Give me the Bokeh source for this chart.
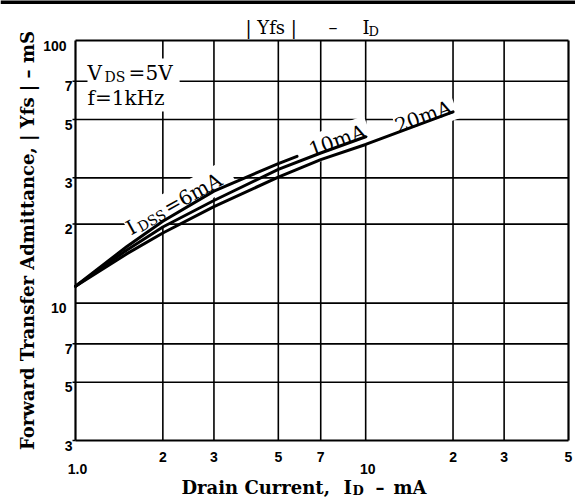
import math
from bokeh.plotting import figure
from bokeh.models import Label, Range1d, Span
from bokeh.embed import file_html
from bokeh.resources import INLINE

# ---------------- data ----------------
id_6mA = [1.0, 1.5, 2.0, 3.0, 5.0, 5.8]
yfs_6mA = [11.6, 16.4, 20.5, 26.7, 34.0, 36.2]

id_10mA = [1.0, 1.5, 2.0, 3.0, 5.0, 7.0, 10.0]
yfs_10mA = [11.6, 15.9, 19.5, 24.6, 32.3, 37.3, 43.0]

id_20mA = [1.0, 1.5, 2.0, 3.0, 5.0, 7.0, 10.0, 20.0]
yfs_20mA = [11.6, 15.4, 18.5, 23.3, 30.2, 35.2, 40.2, 53.5]

x_lo, x_hi = 1.0, 50.0      # axis limits (mA)
y_lo, y_hi = 3.0, 100.0     # axis limits (mS)

x_ticks = [2, 3, 5, 7, 20, 30, 50]
x_tick_labels = ["2", "3", "5", "7", "2", "3", "5"]
x_decades = [1, 10]
x_decade_labels = ["1.0", "10"]

y_ticks = [3, 5, 7, 20, 30, 50, 70]
y_tick_labels = ["3", "5", "7", "2", "3", "5", "7"]
y_decades = [10, 100]
y_decade_labels = ["10", "100"]

x_grid = [2, 3, 5, 7, 10, 20, 30]
y_grid = [5, 7, 10, 20, 30, 50, 70]

# ---------------- layout: the frame fills the canvas ----------------
W, H = 575, 499
L, R, T, B = 75, 568, 40, 440          # where the chart box sits (px)
xpd = (R - L) / math.log10(x_hi / x_lo)  # px per decade
ypd = (B - T) / math.log10(y_hi / y_lo)
x_range = Range1d(x_lo / 10 ** (L / xpd), x_hi * 10 ** ((W - R) / xpd))
y_range = Range1d(y_lo / 10 ** ((H - B) / ypd), y_hi * 10 ** (T / ypd))

p = figure(width=W, height=H, x_axis_type="log", y_axis_type="log",
           x_range=x_range, y_range=y_range,
           x_axis_location=None, y_axis_location=None,
           output_backend="svg", toolbar_location=None, min_border=0)
p.title.visible = False
p.grid.visible = False
p.outline_line_color = None
p.background_fill_color = "white"
p.border_fill_color = "white"

TICK_FONT = "Liberation Sans"
SERIF = "DejaVu Serif"

# thick rule at the very top of the page
p.add_layout(Span(location=y_range.end, dimension="width",
                  line_color="black", line_width=7))

# grid lines and chart box
n = len(x_grid)
p.segment(x0=x_grid, y0=[y_lo] * n, x1=x_grid, y1=[y_hi] * n,
          line_color="black", line_width=1.6, level="image")
n = len(y_grid)
p.segment(x0=[x_lo] * n, y0=y_grid, x1=[x_hi] * n, y1=y_grid,
          line_color="black", line_width=1.6, level="image")
p.segment(x0=[x_lo, x_hi, x_lo, x_lo], y0=[y_lo, y_lo, y_lo, y_hi],
          x1=[x_lo, x_hi, x_hi, x_hi], y1=[y_hi, y_hi, y_lo, y_hi],
          line_color="black", line_width=2.2, level="image")
# small outside ticks on the y side
p.ray(x=[x_lo] * len(y_ticks), y=y_ticks, length=3, length_units="screen",
      angle=math.pi, line_color="black", line_width=1.5, level="image")

# ---------------- tick labels ----------------
def tick_label(text, xv, yv, dx, dy, align):
    p.add_layout(Label(x=xv, y=yv, x_offset=dx, y_offset=dy, text=text,
                       text_font=TICK_FONT, text_font_style="bold",
                       text_font_size="14px", text_color="black",
                       text_align=align, text_baseline="alphabetic"))

for xv, t in zip(x_ticks, x_tick_labels):
    tick_label(t, xv, y_lo, 0, -16, "center")
for xv, t in zip(x_decades, x_decade_labels):
    tick_label(t, xv, y_lo, 2, -28, "center")
for yv, t in zip(y_ticks, y_tick_labels):
    tick_label(t, x_lo, yv, -3, -5, "right")
for yv, t in zip(y_decades, y_decade_labels):
    tick_label(t, x_lo, yv, -9, -5, "right")

# ---------------- text helpers (anchored at the box's top-left corner) ----
def put(text, px, py, size, bold=False, angle=0.0, color="black", bg=None,
        level="annotation", font=SERIF, align="left"):
    kw = dict(x=x_lo, y=y_hi, x_offset=px - L, y_offset=-(py - T), text=text,
              angle=angle, text_font=font, text_font_size=f"{size}px",
              text_font_style="bold" if bold else "normal", text_color=color,
              text_align=align, text_baseline="alphabetic", level=level)
    if bg is not None:
        kw.update(background_fill_color=bg, padding=2)
    p.add_layout(Label(**kw))

def put_rot(text, x0, y0, d, s, deg, size, **kw):
    a = math.radians(deg)
    px = x0 + d * math.cos(a) + s * math.sin(a)
    py = y0 - d * math.sin(a) + s * math.cos(a)
    put(text, px, py, size, angle=a, **kw)

# white boxes behind in-chart texts (above grid, below curves)
put("VDS=5V", 87, 72, 20, color="white", bg="white", level="underlay")
put("f=1kHz", 87, 97, 20, color="white", bg="white", level="underlay")
put_rot("IDSS=6mA", 127, 229, 0, 0, 29, 20, color="white", bg="white", level="underlay")
put_rot("10mA", 309, 150, 0, 0, 20, 20, color="white", bg="white", level="underlay")
put_rot("20mA", 395, 126, 0, 0, 20, 20, color="white", bg="white", level="underlay")

# ---------------- curves ----------------
for xs, ys in ((id_6mA, yfs_6mA), (id_10mA, yfs_10mA), (id_20mA, yfs_20mA)):
    p.line(xs, ys, line_color="black", line_width=3, line_cap="round")

# ---------------- texts ----------------
# title  | Yfs |  -  I_D
put("| Yfs |", 245, 27, 18)
put("\u2013", 328, 27, 18)
put("I", 362, 27, 18)
put("D", 368, 31, 13)

# conditions
put("V", 87, 72, 20)
put("DS", 104, 76, 14)
put("=", 128, 72, 20)
put("5V", 145, 72, 20)
put("f=1kHz", 87, 97, 20)

# curve labels
put_rot("I", 127, 229, 0, 0, 29, 20)
put_rot("DSS", 127, 229, 10.5, 4, 29, 14)
put_rot("=6mA", 127, 229, 43, 0, 29, 20)
put_rot("10mA", 309, 150, 0, 0, 20, 20)
put_rot("20mA", 395, 126, 0, 0, 20, 20)

# x axis title  Drain Current, I_D - mA
put("Drain Current,", 181, 487, 18, bold=True)
put("I", 343, 487, 18, bold=True)
put("D", 352, 490, 13, bold=True)
put("\u2013", 375, 487, 18, bold=True)
put("mA", 393, 487, 18, bold=True)

# y axis title (rotated, centred on the box)
p.add_layout(Label(x=x_lo, y=math.sqrt(y_lo * y_hi), x_offset=27 - L, y_offset=0,
                   text="Forward Transfer Admittance, | Yfs | \u2013 mS",
                   angle=math.pi / 2, text_font=SERIF, text_font_style="bold",
                   text_font_size="18px", text_color="black",
                   text_align="center", text_baseline="alphabetic"))

open("out.html", "w").write(file_html(p, INLINE))
